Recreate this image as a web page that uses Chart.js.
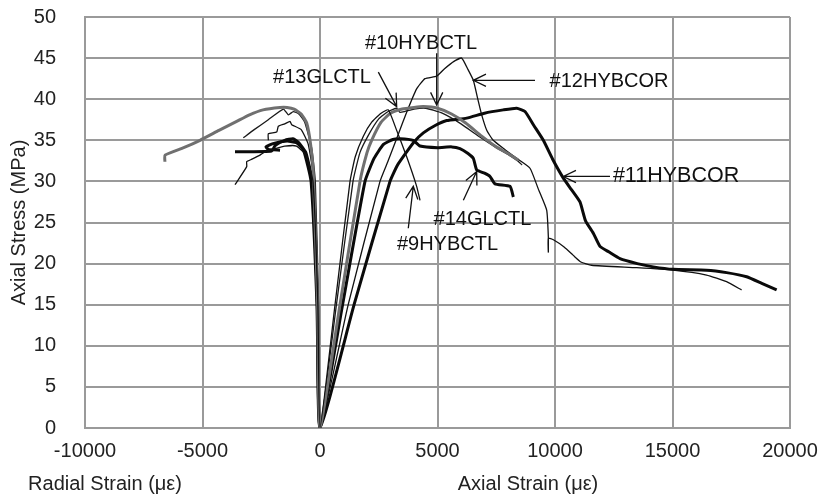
<!DOCTYPE html>
<html>
<head>
<meta charset="utf-8">
<script src="https://cdn.jsdelivr.net/npm/chart.js@4/dist/chart.umd.min.js"></script>
<style>
html, body { margin: 0; padding: 0; background: #ffffff; }
canvas { display: block; }
</style>
</head>
<body>
<canvas id="chart" width="823" height="504"></canvas>
<script>
// Axis ticks
const strainTicks = [-10000, -5000, 0, 5000, 10000, 15000, 20000];
const stressTicks = [0, 5, 10, 15, 20, 25, 30, 35, 40, 45, 50];

// Specimen names
const specimenNames = ['#9HYBCTL', '#10HYBCTL', '#11HYBCOR', '#12HYBCOR', '#13GLCTL', '#14GLCTL'];

// Radial strain (µε) vs axial stress (MPa), listed from the origin outward
const radial9 = [[0,0],[-90,15],[-300,30],[-600,33.2],[-1000,34.3],[-1500,34.3],[-1900,34.0],[-2340,33.6],[-2553,33.2],[-2900,32.7],[-3119,32.4],[-3119,31.8],[-3617,29.6]];
const radial10 = [[0,0],[-100,15],[-285,31],[-400,34.5],[-566,37.1],[-800,38.2],[-1100,38.8],[-1400,39.0],[-1702,39.0],[-2425,38.7],[-3000,38.1],[-3545,37.3],[-4300,36.2],[-5106,35.0],[-5800,34.1],[-6595,33.2],[-6600,32.4]];
const radial11 = [[0,0],[-110,15],[-330,30],[-600,33.5],[-900,34.7],[-1149,35.2],[-1500,35.0],[-1900,34.4],[-2056,33.7],[-3617,33.6]];
const radial12 = [[0,0],[-80,15],[-250,30],[-500,34.5],[-800,36.3],[-1206,36.9],[-1277,37.3],[-1500,37.0],[-1773,36.7],[-1844,36.0],[-2198,35.8],[-2198,35.0]];
const radial13 = [[0,0],[-60,15],[-200,30],[-350,34],[-650,37.2],[-900,38.2],[-1135,38.5],[-1347,38.1],[-1560,38.8],[-2200,37.5],[-2800,36.3],[-3264,35.3]];
const radial14 = [[0,0],[-130,15],[-380,30],[-700,33.8],[-1000,34.7],[-1400,34.9],[-2000,34.6],[-2300,34.2],[-2200,33.9],[-1700,33.8]];

// Axial strain (µε) vs axial stress (MPa)
const axial9 = [[0,0],[640,15],[1277,30],[1500,33],[1844,35.5],[2200,37.2],[2600,38.3],[2908,38.7],[3250,36.3],[3700,32.9],[4113,29.4],[4255,27.7]];
const axial10 = [[0,0],[850,15],[1702,30],[2000,33.5],[2198,35],[2600,37.2],[3000,38.3],[3500,38.8],[4000,39.0],[4397,39.1],[5000,38.9],[5600,38.2],[6200,37.1],[6880,35.5],[7500,34.2],[8000,33.4],[8440,32.6]];
const axial11 = [[0,0],[1450,15],[2979,30],[3300,32],[3689,33.6],[4000,34.8],[4397,35.9],[4900,36.8],[5390,37.4],[6242,37.7],[7000,38.3],[7800,38.7],[8370,38.9],[8723,38.5],[9100,36.8],[9504,35.0],[9900,32.7],[10355,30.4],[10700,29.0],[11063,27.5],[11300,25.2],[11630,23.7],[11914,22.1],[12300,21.4],[12765,20.6],[13500,20.0],[14182,19.6],[15030,19.3],[16450,19.2],[17300,18.9],[18155,18.4],[18800,17.6],[19432,16.8]];
const axial12 = [[0,0],[1200,15],[2553,30],[2900,32.5],[3300,35.5],[3700,38.5],[4100,41.2],[4468,42.5],[4965,42.8],[5300,43.7],[5700,44.6],[6029,45.0],[6300,43.6],[6525,42.3],[6700,40.2],[6880,38.1],[7100,36.2],[7370,35.0],[7900,33.8],[8370,32.8],[8936,31.6],[9300,29.0],[9646,26.5],[9716,23.3],[9716,21.4],[9716,23.1],[9930,22.9],[10400,22.0],[10780,21.0],[11100,20.2],[11560,19.8],[13476,19.5],[15030,19.2],[16450,18.6],[17300,17.8],[17940,16.8]];
const axial13 = [[0,0],[700,15],[1404,30],[1700,33.5],[2056,35.6],[2500,37.6],[2900,38.5],[3263,38.9],[3400,38.4],[3600,38.5],[4000,38.8],[4500,38.9],[5200,38.3],[6000,37.0],[6800,35.4],[7500,34.1],[8100,33.1],[8400,32.5],[8600,32.0]];
const axial14 = [[0,0],[960,15],[1915,30],[2300,32.8],[2700,34.5],[3100,35.1],[3404,35.2],[3970,35.0],[4255,34.3],[5000,34.1],[5600,34.2],[5957,34.0],[6300,33.4],[6525,32.8],[6667,31.4],[7000,31.0],[7234,30.6],[7447,29.7],[8085,29.4],[8228,28.1]];

const radialCurves = [radial9, radial10, radial11, radial12, radial13, radial14];
const axialCurves = [axial9, axial10, axial11, axial12, axial13, axial14];

// Line styles per specimen
const lineColors = ['#111111', '#707070', '#0a0a0a', '#111111', '#1a1a1a', '#0a0a0a'];
const lineWidths = [1.3, 3, 3, 1.3, 1.3, 3];

// Callout labels: text centre, arrow tail and arrow tip in data units
const callouts = [
  { text: '#10HYBCTL', at: [4300, 46.8], from: [4965, 45.6], to: [4965, 39.3], size: 20 },
  { text: '#13GLCTL',  at: [85, 42.7],   from: [2482, 43.3], to: [3263, 39.1], size: 20 },
  { text: '#12HYBCOR', at: [12300, 42.2], from: [9148, 42.3], to: [6525, 42.3], size: 20 },
  { text: '#11HYBCOR', at: [15150, 30.6], from: [12340, 30.6], to: [10355, 30.6], size: 21.5 },
  { text: '#14GLCTL',  at: [6914, 25.4], from: [6100, 27.7], to: [6667, 31.2], size: 20 },
  { text: '#9HYBCTL',  at: [5425, 22.3], from: [3757, 24.3], to: [3970, 29.4], size: 20 }
];

const FONT = '"Liberation Sans", Arial, Helvetica, sans-serif';

// One continuous path per specimen: radial branch walked in towards the origin, then the axial branch
const datasets = specimenNames.map((name, i) => ({
  label: name,
  data: radialCurves[i].slice().reverse().concat(axialCurves[i].slice(1)).map(p => ({ x: p[0], y: p[1] })),
  borderColor: lineColors[i],
  borderWidth: lineWidths[i],
  showLine: true,
  pointRadius: 0,
  tension: 0.15,
  fill: false
}));

const annotationsPlugin = {
  id: 'callouts',
  afterDatasetsDraw(chart) {
    const { ctx, scales: { x, y } } = chart;
    ctx.save();
    ctx.fillStyle = '#111111';
    ctx.strokeStyle = '#111111';
    ctx.lineWidth = 1.3;
    ctx.textAlign = 'center';
    ctx.textBaseline = 'middle';
    callouts.forEach(c => {
      ctx.font = c.size + 'px ' + FONT;
      ctx.fillText(c.text, x.getPixelForValue(c.at[0]), y.getPixelForValue(c.at[1]));
      const x0 = x.getPixelForValue(c.from[0]), y0 = y.getPixelForValue(c.from[1]);
      const x1 = x.getPixelForValue(c.to[0]), y1 = y.getPixelForValue(c.to[1]);
      ctx.beginPath();
      ctx.moveTo(x0, y0);
      ctx.lineTo(x1, y1);
      const ang = Math.atan2(y1 - y0, x1 - x0);
      const len = 14, spread = 0.45;
      ctx.moveTo(x1 - len * Math.cos(ang - spread), y1 - len * Math.sin(ang - spread));
      ctx.lineTo(x1, y1);
      ctx.lineTo(x1 - len * Math.cos(ang + spread), y1 - len * Math.sin(ang + spread));
      ctx.stroke();
    });
    ctx.restore();
  },
  afterDraw(chart) {
    const { ctx, chartArea } = chart;
    ctx.save();
    ctx.fillStyle = '#222222';
    ctx.font = '20px ' + FONT;
    ctx.textBaseline = 'middle';
    ctx.textAlign = 'center';
    ctx.fillText('Radial Strain (\u03BC\u03B5)', 105, 484);
    ctx.fillText('Axial Strain (\u03BC\u03B5)', 528, 484);
    ctx.translate(19, (chartArea.top + chartArea.bottom) / 2);
    ctx.rotate(-Math.PI / 2);
    ctx.fillText('Axial Stress (MPa)', 0, 0);
    ctx.restore();
  }
};

new Chart(document.getElementById('chart'), {
  type: 'scatter',
  data: { datasets },
  options: {
    responsive: false,
    animation: false,
    devicePixelRatio: 1,
    layout: { padding: { top: 17, right: 33, left: 0, bottom: 0 } },
    plugins: { legend: { display: false }, tooltip: { enabled: false } },
    scales: {
      x: {
        type: 'linear',
        min: strainTicks[0],
        max: strainTicks[strainTicks.length - 1],
        afterBuildTicks(scale) { scale.ticks = strainTicks.map(v => ({ value: v })); },
        afterFit(scale) {
          scale.height = 76;
          scale.paddingLeft = 0;
          scale.paddingRight = 0;
        },
        grid: { color: '#9a9a9a', lineWidth: 2, drawTicks: false },
        border: { color: '#9a9a9a', width: 2 },
        ticks: {
          padding: 11,
          color: '#222222',
          font: { family: FONT, size: 20 },
          maxRotation: 0,
          callback: v => String(v)
        }
      },
      y: {
        type: 'linear',
        min: stressTicks[0],
        max: stressTicks[stressTicks.length - 1],
        afterBuildTicks(scale) { scale.ticks = stressTicks.map(v => ({ value: v })); },
        afterFit(scale) {
          scale.width = 85;
          scale.paddingTop = 0;
          scale.paddingBottom = 0;
        },
        grid: { color: '#9a9a9a', lineWidth: 2, drawTicks: false },
        border: { color: '#9a9a9a', width: 2 },
        ticks: {
          padding: 29,
          color: '#222222',
          font: { family: FONT, size: 20 },
          callback: v => String(v)
        }
      }
    }
  },
  plugins: [annotationsPlugin]
});
</script>
</body>
</html>
